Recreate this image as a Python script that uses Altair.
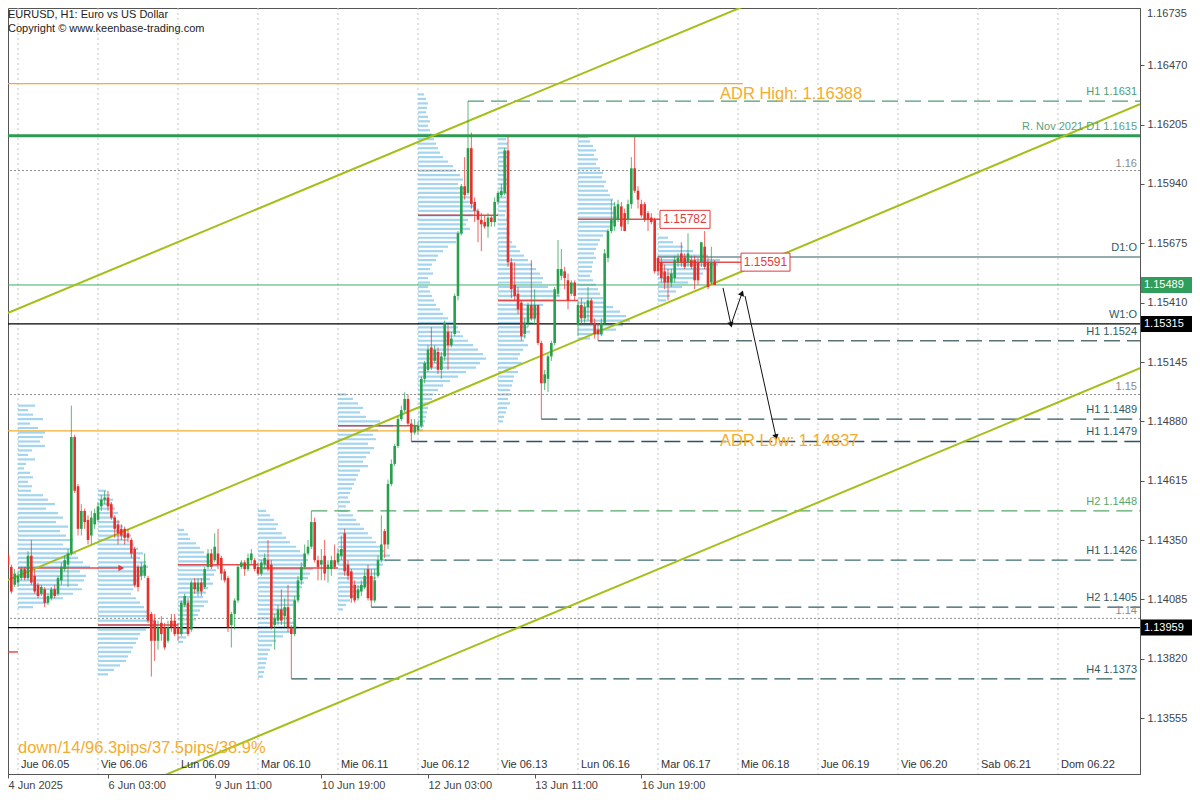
import math
import altair as alt
import pandas as pd

# ---------------- plot geometry ----------------
W, H = 1132, 766
X_DOMAIN = [-3.0, 336.6]          # H1 bar index, 0 = Thu 5 Jun 2025 00:00 (weekend skipped)
Y_DOMAIN = [1.13305, 1.16726]

# ---------------- candles (EURUSD H1) ----------------
FIRST_BAR = -4
OPEN = [1.1433, 1.1428, 1.1423, 1.1415,
        1.1416, 1.1418, 1.1422, 1.1418, 1.1428, 1.1419, 1.1415, 1.1411, 1.1413, 1.1407,
        1.1409, 1.1413, 1.1411, 1.1417, 1.1422, 1.1424, 1.1429, 1.1481, 1.1459, 1.1440,
        1.1448, 1.1444, 1.1437, 1.1442, 1.1444, 1.1450, 1.1453, 1.1454, 1.1451, 1.1445,
        1.1442, 1.1440, 1.1440, 1.1438, 1.1435, 1.1431, 1.1423, 1.1419, 1.1419, 1.1418,
        1.1402, 1.1399, 1.1390, 1.1398, 1.1396, 1.1390, 1.1399, 1.1399, 1.1396, 1.1393,
        1.1406, 1.1407, 1.1395, 1.1416, 1.1412, 1.1416, 1.1414, 1.1423, 1.1429, 1.1426,
        1.1429, 1.1427, 1.1421, 1.1418, 1.1397, 1.1402, 1.1408, 1.1423, 1.1425, 1.1422,
        1.1426, 1.1426, 1.1423, 1.1420, 1.1424, 1.1426, 1.1424, 1.1397, 1.1399, 1.1404,
        1.1401, 1.1405, 1.1396, 1.1393, 1.1408, 1.1417, 1.1423, 1.1429, 1.1432, 1.1443,
        1.1426, 1.1424, 1.1428, 1.1422, 1.1422, 1.1426, 1.1425, 1.1428, 1.1438, 1.1424,
        1.1421, 1.1415, 1.1409, 1.1412, 1.1414, 1.1422, 1.1419, 1.1408, 1.1419, 1.1426,
        1.1439, 1.1433, 1.1460, 1.1469, 1.1477, 1.1489, 1.1493, 1.1498, 1.1487, 1.1483,
        1.1484, 1.1486, 1.1507, 1.1511, 1.1521, 1.1515, 1.1519, 1.1511, 1.1517, 1.1528,
        1.1522, 1.1527, 1.1544, 1.1572, 1.1593, 1.1590, 1.1610, 1.1586, 1.1582, 1.1578,
        1.1577, 1.1575, 1.1579, 1.1577, 1.1586, 1.1589, 1.1590, 1.1609, 1.1559, 1.1549,
        1.1545, 1.1541, 1.1527, 1.1532, 1.1540, 1.1534, 1.1540, 1.1523, 1.1505, 1.1507,
        1.1517, 1.1523, 1.1545, 1.1553, 1.1555, 1.1551, 1.1545, 1.1550, 1.1531, 1.1540,
        1.1534, 1.1539, 1.1542, 1.1532, 1.1529, 1.1527, 1.1532, 1.1561, 1.1573, 1.1575,
        1.1578, 1.1584, 1.1581, 1.1578, 1.1585, 1.1601, 1.1591, 1.1585, 1.1585, 1.1581,
        1.1579, 1.1578, 1.1561, 1.1559, 1.1555, 1.1553, 1.1550, 1.1552, 1.1559, 1.1563,
        1.1561, 1.1559, 1.1560, 1.1560, 1.1559, 1.1559, 1.1566, 1.1559, 1.1550, 1.1559]
HIGH = [1.1435, 1.1429, 1.1424, 1.1422,
        1.1421, 1.1423, 1.1423, 1.1430, 1.1435, 1.1422, 1.1416, 1.1415, 1.1414, 1.1411,
        1.1414, 1.1415, 1.1419, 1.1425, 1.1428, 1.1431, 1.1495, 1.1482, 1.1460, 1.1451,
        1.1449, 1.1446, 1.1448, 1.1449, 1.1452, 1.1455, 1.1457, 1.1457, 1.1452, 1.1446,
        1.1444, 1.1442, 1.1441, 1.1440, 1.1436, 1.1432, 1.1424, 1.1425, 1.1429, 1.1419,
        1.1403, 1.1402, 1.1399, 1.1401, 1.1398, 1.1399, 1.1402, 1.1402, 1.1398, 1.1408,
        1.1411, 1.1409, 1.1417, 1.1418, 1.1418, 1.1418, 1.1423, 1.1431, 1.1431, 1.1438,
        1.1440, 1.1428, 1.1422, 1.1419, 1.1403, 1.1409, 1.1424, 1.1426, 1.1426, 1.1429,
        1.1431, 1.1427, 1.1425, 1.1426, 1.1429, 1.1435, 1.1426, 1.1402, 1.1406, 1.1413,
        1.1409, 1.1415, 1.1397, 1.1410, 1.1419, 1.1425, 1.1433, 1.1435, 1.1448, 1.1445,
        1.1428, 1.1431, 1.1435, 1.1426, 1.1428, 1.1433, 1.1431, 1.1437, 1.1440, 1.1426,
        1.1422, 1.1417, 1.1415, 1.1417, 1.1422, 1.1424, 1.1422, 1.1422, 1.1428, 1.1446,
        1.1440, 1.1462, 1.1471, 1.1478, 1.1490, 1.1495, 1.1501, 1.1500, 1.1489, 1.1489,
        1.1488, 1.1508, 1.1515, 1.1522, 1.1530, 1.1522, 1.1521, 1.1519, 1.1533, 1.1531,
        1.1528, 1.1545, 1.1573, 1.1594, 1.1606, 1.1631, 1.1617, 1.1588, 1.1583, 1.1581,
        1.1580, 1.1581, 1.1580, 1.1588, 1.1591, 1.1594, 1.1610, 1.1615, 1.1561, 1.1559,
        1.1548, 1.1542, 1.1534, 1.1541, 1.1560, 1.1547, 1.1540, 1.1524, 1.1511, 1.1518,
        1.1524, 1.1548, 1.1569, 1.1565, 1.1557, 1.1554, 1.1551, 1.1551, 1.1542, 1.1543,
        1.1541, 1.1548, 1.1543, 1.1534, 1.1532, 1.1534, 1.1565, 1.1574, 1.1587, 1.1586,
        1.1587, 1.1586, 1.1583, 1.1587, 1.1606, 1.1615, 1.1593, 1.1587, 1.1586, 1.1582,
        1.1581, 1.1579, 1.1562, 1.1561, 1.1558, 1.1556, 1.1556, 1.1562, 1.1563, 1.1568,
        1.1563, 1.1572, 1.1562, 1.1562, 1.1561, 1.1568, 1.1573, 1.1561, 1.1566, 1.1560]
LOW = [1.1423, 1.1422, 1.1411, 1.1414,
       1.1414, 1.1417, 1.1417, 1.1417, 1.1415, 1.1411, 1.1409, 1.1410, 1.1405, 1.1406,
       1.1408, 1.1409, 1.1410, 1.1415, 1.1421, 1.1414, 1.1428, 1.1456, 1.1437, 1.1437,
       1.1440, 1.1433, 1.1433, 1.1440, 1.1443, 1.1448, 1.1451, 1.1448, 1.1444, 1.1436,
       1.1433, 1.1435, 1.1433, 1.1434, 1.1427, 1.1414, 1.1412, 1.1417, 1.1418, 1.1398,
       1.1374, 1.1381, 1.1386, 1.1390, 1.1386, 1.1389, 1.1394, 1.1392, 1.1390, 1.1392,
       1.1405, 1.1392, 1.1394, 1.1411, 1.1410, 1.1410, 1.1413, 1.1422, 1.1422, 1.1425,
       1.1422, 1.1417, 1.1416, 1.1394, 1.1387, 1.1395, 1.1407, 1.1422, 1.1419, 1.1421,
       1.1424, 1.1421, 1.1419, 1.1419, 1.1422, 1.1421, 1.1395, 1.1386, 1.1397, 1.1397,
       1.1396, 1.1394, 1.1373, 1.1392, 1.1407, 1.1415, 1.1422, 1.1428, 1.1431, 1.1425,
       1.1417, 1.1417, 1.1417, 1.1416, 1.1419, 1.1422, 1.1424, 1.1426, 1.1419, 1.1417,
       1.1407, 1.1407, 1.1408, 1.1410, 1.1413, 1.1408, 1.1405, 1.1407, 1.1418, 1.1425,
       1.1427, 1.1431, 1.1459, 1.1468, 1.1476, 1.1488, 1.1492, 1.1486, 1.1479, 1.1482,
       1.1482, 1.1485, 1.1505, 1.1510, 1.1511, 1.1514, 1.1509, 1.1507, 1.1515, 1.1511,
       1.1521, 1.1526, 1.1542, 1.1571, 1.1587, 1.1589, 1.1583, 1.1577, 1.1568, 1.1564,
       1.1574, 1.1570, 1.1575, 1.1575, 1.1585, 1.1588, 1.1589, 1.1557, 1.1543, 1.1542,
       1.1536, 1.1524, 1.1525, 1.1530, 1.1533, 1.1531, 1.1522, 1.1489, 1.1502, 1.1501,
       1.1515, 1.1522, 1.1544, 1.1551, 1.1547, 1.1538, 1.1544, 1.1542, 1.1526, 1.1531,
       1.1532, 1.1533, 1.1531, 1.1525, 1.1524, 1.1526, 1.1531, 1.1559, 1.1572, 1.1573,
       1.1577, 1.1573, 1.1573, 1.1576, 1.1583, 1.1590, 1.1583, 1.1579, 1.1577, 1.1573,
       1.1576, 1.1554, 1.1553, 1.1550, 1.1547, 1.1542, 1.1548, 1.1550, 1.1557, 1.1557,
       1.1556, 1.1557, 1.1556, 1.1547, 1.1549, 1.1557, 1.1556, 1.1547, 1.1549, 1.1549]
CLOSE = [1.1424, 1.1424, 1.1412, 1.1420,
         1.1419, 1.1422, 1.1418, 1.1428, 1.1416, 1.1412, 1.1410, 1.1414, 1.1407, 1.1410,
         1.1413, 1.1410, 1.1418, 1.1423, 1.1426, 1.1429, 1.1481, 1.1457, 1.1440, 1.1448,
         1.1443, 1.1435, 1.1445, 1.1447, 1.1450, 1.1453, 1.1454, 1.1450, 1.1445, 1.1440,
         1.1438, 1.1437, 1.1436, 1.1436, 1.1429, 1.1415, 1.1414, 1.1423, 1.1424, 1.1399,
         1.1390, 1.1390, 1.1396, 1.1393, 1.1387, 1.1396, 1.1396, 1.1393, 1.1393, 1.1407,
         1.1410, 1.1393, 1.1416, 1.1413, 1.1416, 1.1412, 1.1422, 1.1429, 1.1423, 1.1432,
         1.1424, 1.1420, 1.1417, 1.1396, 1.1402, 1.1408, 1.1423, 1.1425, 1.1422, 1.1427,
         1.1429, 1.1422, 1.1420, 1.1425, 1.1427, 1.1422, 1.1396, 1.1400, 1.1404, 1.1399,
         1.1405, 1.1396, 1.1393, 1.1408, 1.1417, 1.1423, 1.1429, 1.1432, 1.1443, 1.1426,
         1.1423, 1.1426, 1.1420, 1.1424, 1.1426, 1.1423, 1.1429, 1.1431, 1.1421, 1.1419,
         1.1409, 1.1408, 1.1413, 1.1415, 1.1419, 1.1409, 1.1408, 1.1417, 1.1426, 1.1433,
         1.1433, 1.1460, 1.1469, 1.1477, 1.1489, 1.1493, 1.1498, 1.1487, 1.1483, 1.1486,
         1.1486, 1.1507, 1.1514, 1.1520, 1.1512, 1.1520, 1.1511, 1.1517, 1.1532, 1.1522,
         1.1525, 1.1544, 1.1572, 1.1593, 1.1589, 1.1610, 1.1585, 1.1582, 1.1578, 1.1576,
         1.1575, 1.1579, 1.1577, 1.1586, 1.1590, 1.1591, 1.1609, 1.1559, 1.1547, 1.1544,
         1.1538, 1.1526, 1.1532, 1.1540, 1.1534, 1.1540, 1.1523, 1.1505, 1.1509, 1.1517,
         1.1523, 1.1547, 1.1556, 1.1556, 1.1552, 1.1542, 1.1550, 1.1544, 1.1540, 1.1534,
         1.1539, 1.1542, 1.1532, 1.1527, 1.1527, 1.1532, 1.1563, 1.1573, 1.1578, 1.1584,
         1.1585, 1.1575, 1.1573, 1.1585, 1.1601, 1.1591, 1.1587, 1.1580, 1.1578, 1.1578,
         1.1577, 1.1555, 1.1555, 1.1552, 1.1550, 1.1550, 1.1554, 1.1560, 1.1561, 1.1559,
         1.1557, 1.1563, 1.1557, 1.1551, 1.1551, 1.1568, 1.1557, 1.1548, 1.1559, 1.15489]

# ---------------- session axis ----------------
DAY_LABELS = ["Jue 06.05", "Vie 06.06", "Lun 06.09", "Mar 06.10", "Mie 06.11", "Jue 06.12",
              "Vie 06.13", "Lun 06.16", "Mar 06.17", "Mie 06.18", "Jue 06.19", "Vie 06.20",
              "Sab 06.21", "Dom 06.22"]
BARS_PER_DAY = 24
X_TICK_BARS = [-3, 27, 59, 91, 123, 155, 187]
X_TICK_LABELS = ["4 Jun 2025", "6 Jun 03:00", "9 Jun 11:00", "10 Jun 19:00",
                 "12 Jun 03:00", "13 Jun 11:00", "16 Jun 19:00"]
Y_TICKS = [1.16470, 1.16205, 1.15940, 1.15675, 1.15410, 1.15145,
           1.14880, 1.14615, 1.14350, 1.14085, 1.13820, 1.13555]
Y_TOP_TICK = 1.16735

# ---------------- daily volume profiles ----------------
PROFILE_SESSION = [0, 1, 2, 3, 4, 5, 6, 7, 8]
PROFILE_TOP = [1.1495, 1.1457, 1.14395, 1.1448, 1.1500, 1.1634, 1.1614, 1.1615, 1.1570]
PROFILE_STEP = 0.0002
PROFILES = [
    [17, 10, 15, 25, 12, 20, 27, 25, 22, 27, 14, 10, 17, 8, 6, 12, 15, 10, 14, 13, 25, 30, 37,
     28, 40, 45, 38, 50, 42, 48, 55, 45, 52, 58, 60, 65, 72, 62, 68, 66, 60, 64, 55, 45, 30, 15],
    [8, 12, 15, 14, 17, 20, 18, 22, 25, 28, 33, 30, 36, 40, 45, 42, 48, 50, 46, 44, 40, 38, 35,
     33, 38, 42, 46, 50, 54, 58, 60, 48, 42, 40, 38, 35, 33, 30, 28, 22, 16, 10],
    [6, 10, 12, 18, 22, 26, 30, 35, 40, 38, 36, 32, 35, 30, 28, 25, 30, 26, 22, 20, 18, 15, 12,
     10, 8, 5],
    [8, 12, 16, 20, 18, 24, 28, 32, 38, 42, 46, 50, 48, 55, 52, 50, 46, 44, 40, 42, 38, 35, 30,
     28, 32, 36, 40, 34, 25, 18, 14, 12, 10, 9, 8, 7, 6, 5],
    [8, 15, 20, 25, 22, 28, 42, 55, 40, 35, 38, 30, 36, 32, 28, 25, 30, 22, 20, 18, 16, 14, 12,
     10, 12, 8, 10, 15, 18, 22, 26, 30, 34, 38, 42, 46, 52, 48, 45, 40, 42, 38, 32, 28, 22, 16,
     12, 8, 5],
    [6, 8, 10, 9, 8, 10, 12, 10, 12, 14, 16, 18, 20, 22, 25, 30, 35, 38, 42, 45, 40, 46, 48, 52,
     55, 58, 60, 55, 50, 48, 52, 45, 40, 38, 30, 25, 20, 18, 14, 12, 15, 10, 12, 10, 12, 14, 16,
     18, 22, 25, 30, 35, 40, 42, 45, 50, 55, 60, 65, 68, 62, 58, 48, 40, 32, 25, 20, 15, 14, 12,
     10, 9, 8, 7, 6, 5],
    [8, 10, 9, 12, 10, 8, 9, 7, 8, 10, 9, 8, 10, 8, 9, 10, 8, 7, 9, 8, 10, 12, 10, 14, 18, 22,
     26, 30, 34, 38, 42, 45, 44, 50, 55, 62, 58, 45, 40, 42, 38, 35, 30, 32, 28, 26, 30, 25, 22,
     20, 24, 18, 20, 16, 15, 14, 12, 13, 10, 12, 9, 8, 6, 5],
    [10, 12, 15, 18, 16, 20, 18, 22, 25, 24, 28, 26, 30, 32, 35, 37, 34, 38, 40, 36, 33, 30, 25,
     22, 20, 18, 16, 18, 15, 14, 14, 12, 15, 18, 20, 22, 25, 28, 35, 42, 48, 52, 45, 38, 25, 12],
    [10, 15, 25, 35, 50, 62, 60, 52, 45, 38, 30, 24, 18, 12, 8],
]
PROFILE_BARS_PER_UNIT = 0.3

# point of control of each session: (start bar, end bar, price)
POC_START = [-3, 0, 24, 48, 72, 96, 120, 144, 168, 192]
POC_END = [0, 31, 48, 72, 96, 120, 144, 168, 192.6, 216.9]
POC_PRICE = [1.1385, 1.14225, 1.1397, 1.1424, 1.14225, 1.1486, 1.1580, 1.1542, 1.15782, 1.15591]
POC_TAGS = ["1.15782", "1.15591"]
POC_TAG_START = [192.6, 216.9]
POC_TAG_END = [207.6, 231.6]
POC_TAG_PRICE = [1.15782, 1.15591]

# ---------------- levels ----------------
ROUND_LEVELS = [1.16, 1.15, 1.14]
ADR_HIGH, ADR_LOW = 1.16388, 1.14837
ADR_END_BAR = 217.5
RESISTANCE = 1.16155
D1_OPEN, D1_START = 1.15614, 192
W1_OPEN = 1.15315
BID = 1.15489
PREV_CLOSE = 1.13959

SWING_NAMES = ["H1 1.1631", "H1 1.1524", "H1 1.1489", "H1 1.1479", "H2 1.1448",
               "H1 1.1426", "H2 1.1405", "H4 1.1373"]
SWING_PRICE = [1.1631, 1.1524, 1.1489, 1.1479, 1.1448, 1.1426, 1.1405, 1.1373]
SWING_BAR = [135, 174, 157, 118, 88, 110, 106, 82]
SWING_COLOR = ["#4e9c74", "#5a7272", "#2f5b5f", "#2c5563", "#55a86a", "#3c6d6d",
               "#2f5b5f", "#2f5b5f"]

RIGHT_TEXT = ["H1 1.1631", "R. Nov 2021 D1 1.1615", "D1:O", "W1:O", "H1 1.1524",
              "H1 1.1489", "H1 1.1479", "H2 1.1448", "H1 1.1426", "H2 1.1405", "H4 1.1373"]
RIGHT_PRICE = [1.1631, 1.16155, 1.15614, 1.15315, 1.1524, 1.1489, 1.1479,
               1.1448, 1.1426, 1.1405, 1.1373]
RIGHT_COLOR = ["#4e9c74", "#5ca07e", "#2f5b5f", "#2f5b5f", "#2f5b5f",
               "#2f5b5f", "#2f5b5f", "#55a86a", "#2f5b5f", "#2f5b5f", "#2f5b5f"]
ROUND_TEXT = ["1.16", "1.15", "1.14"]

# ascending channel (two anchor points per line)
CHANNEL_NAME = ["upper", "upper", "middle", "middle", "lower", "lower"]
CHANNEL_BAR = [-4.5, 222.6, -4.5, 336.6, 42.6, 336.6]
CHANNEL_PRICE = [1.15355, 1.16764, 1.14162, 1.16297, 1.13291, 1.15118]

# projected path arrows
ARROW_FROM_BAR = [211.5, 213.9, 218.1]
ARROW_FROM_PRICE = [1.15476, 1.15311, 1.15440]
ARROW_TO_BAR = [213.9, 217.2, 227.4]
ARROW_TO_PRICE = [1.15311, 1.15453, 1.14810]

TAG_PRICE = [BID, W1_OPEN, PREV_CLOSE]
TAG_FILL = ["#2f9e5a", "#000000", "#000000"]

# ---------------- styling ----------------
FONT = "Liberation Sans"
UP, DOWN = "#25a04c", "#e5302c"
PROFILE_BLUE = "#a4d5ee"
CHANNEL = "#a3bf18"
ADR_COLOR = "#f2ad2e"
POC_RED = "#e23b3b"
LABEL_GREY = "#444444"

XS = alt.Scale(domain=X_DOMAIN, nice=False, zero=False)
YS = alt.Scale(domain=Y_DOMAIN, nice=False, zero=False)
label_expr = " : ".join(f"datum.value == {b} ? '{t}'" for b, t in zip(X_TICK_BARS, X_TICK_LABELS)) + " : ''"
AXX = alt.Axis(values=X_TICK_BARS, labelExpr=label_expr, title=None, grid=False, orient="bottom",
               labelAlign="left", labelFont=FONT, labelFontSize=11, labelColor=LABEL_GREY,
               tickSize=4, tickColor="#555", domainColor="#555", labelPadding=1,
               labelOverlap=False, labelFlush=False)
AXY = alt.Axis(values=Y_TICKS, format=".5f", title=None, grid=False, orient="right",
               labelFont=FONT, labelFontSize=11, labelColor=LABEL_GREY, tickSize=4,
               tickColor="#555", domainColor="#555", labelPadding=3,
               labelOverlap=False, labelFlush=False)


def X(f):
    return alt.X(f"{f}:Q", scale=XS, axis=AXX)


def Y(f):
    return alt.Y(f"{f}:Q", scale=YS, axis=AXY)


PXB = W / (X_DOMAIN[1] - X_DOMAIN[0])
PXP = H / (Y_DOMAIN[1] - Y_DOMAIN[0])

# ---------------- frames ----------------
n = len(OPEN)
candles = pd.DataFrame({"bar": [FIRST_BAR + k for k in range(n)], "open": OPEN, "high": HIGH,
                        "low": LOW, "close": CLOSE})
candles["col"] = [UP if c >= o else DOWN for o, c in zip(OPEN, CLOSE)]

days = pd.DataFrame({"bar": [k * BARS_PER_DAY for k in range(len(DAY_LABELS))], "label": DAY_LABELS})

prof_rows = []
for s, top, vols in zip(PROFILE_SESSION, PROFILE_TOP, PROFILES):
    start = s * BARS_PER_DAY
    for k, v in enumerate(vols):
        prof_rows.append({"x0": start, "x1": start + v * PROFILE_BARS_PER_UNIT,
                          "price": top - k * PROFILE_STEP})
profiles = pd.DataFrame(prof_rows)

poc = pd.DataFrame({"x0": POC_START, "x1": POC_END, "price": POC_PRICE})
poc_tags = pd.DataFrame({"x0": POC_TAG_START, "x1": POC_TAG_END, "price": POC_TAG_PRICE,
                         "label": POC_TAGS})
poc_tags["xm"] = (poc_tags.x0 + poc_tags.x1) / 2

rounds = pd.DataFrame({"price": ROUND_LEVELS, "label": ROUND_TEXT})
adr = pd.DataFrame({"x0": [X_DOMAIN[0]] * 2, "x1": [ADR_END_BAR] * 2, "price": [ADR_HIGH, ADR_LOW],
                    "label": [f"ADR High: {ADR_HIGH:.5f}", f"ADR Low: {ADR_LOW:.5f}"]})
full_lines = pd.DataFrame({"price": [BID, W1_OPEN, PREV_CLOSE],
                           "col": ["#3cae66", "#000000", "#000000"], "w": [1, 1.3, 1.3]})
d1 = pd.DataFrame({"x0": [D1_START], "x1": [X_DOMAIN[1]], "price": [D1_OPEN]})
swings = pd.DataFrame({"x0": SWING_BAR, "x1": [X_DOMAIN[1]] * len(SWING_BAR),
                       "price": SWING_PRICE, "col": SWING_COLOR})
right_lbl = pd.DataFrame({"price": RIGHT_PRICE, "label": RIGHT_TEXT, "col": RIGHT_COLOR})
channel = pd.DataFrame({"line": CHANNEL_NAME, "bar": CHANNEL_BAR, "price": CHANNEL_PRICE})
arrows = pd.DataFrame({"x0": ARROW_FROM_BAR, "p0": ARROW_FROM_PRICE,
                       "x1": ARROW_TO_BAR, "p1": ARROW_TO_PRICE})
arrows["ang"] = [math.degrees(math.atan2((b - a) * PXB, (q - p) * PXP)) % 360
                 for a, p, b, q in zip(ARROW_FROM_BAR, ARROW_FROM_PRICE, ARROW_TO_BAR, ARROW_TO_PRICE)]
tags = pd.DataFrame({"price": TAG_PRICE, "fill": TAG_FILL,
                     "label": [f"{p:.5f}" for p in TAG_PRICE]})
poc_arrow = pd.DataFrame({"bar": [POC_END[1]], "price": [POC_PRICE[1]]})
hdr = pd.DataFrame({"t": ["EURUSD, H1:  Euro vs US Dollar",
                          "Copyright \u00a9 www.keenbase-trading.com"]})

# ---------------- layers ----------------
layers = []
layers.append(alt.Chart(days).mark_rule(color="#c4c4c4", strokeDash=[2, 3], strokeWidth=1)
              .encode(x=X("bar")))
layers.append(alt.Chart(profiles).mark_rule(color=PROFILE_BLUE, strokeWidth=2.2, clip=True)
              .encode(x=X("x0"), x2="x1", y=Y("price")))
layers.append(alt.Chart(rounds).mark_rule(color="#8c8c8c", strokeDash=[2, 2], strokeWidth=1)
              .encode(y=Y("price")))
layers.append(alt.Chart(adr).mark_rule(color=ADR_COLOR, strokeWidth=1.2, clip=True)
              .encode(x=X("x0"), x2="x1", y=Y("price")))
layers.append(alt.Chart(pd.DataFrame({"price": [RESISTANCE]}))
              .mark_rule(color="#2e9a52", strokeWidth=3).encode(y=Y("price")))
layers.append(alt.Chart(full_lines).mark_rule()
              .encode(y=Y("price"), color=alt.Color("col:N", scale=None),
                      strokeWidth=alt.StrokeWidth("w:Q", scale=None)))
layers.append(alt.Chart(d1).mark_rule(color="#2f5b5f", strokeWidth=1.2)
              .encode(x=X("x0"), x2="x1", y=Y("price")))
layers.append(alt.Chart(swings).mark_rule(strokeDash=[16, 7], strokeWidth=1.3)
              .encode(x=X("x0"), x2="x1", y=Y("price"), color=alt.Color("col:N", scale=None)))
layers.append(alt.Chart(poc).mark_rule(color=POC_RED, strokeWidth=1.5, opacity=0.9, clip=True)
              .encode(x=X("x0"), x2="x1", y=Y("price")))
layers.append(alt.Chart(poc_arrow).mark_point(shape="triangle-right", filled=True, size=45,
                                               color=POC_RED, opacity=1)
              .encode(x=X("bar"), y=Y("price")))
layers.append(alt.Chart(channel).mark_line(color=CHANNEL, strokeWidth=2, clip=True)
              .encode(x=X("bar"), y=Y("price"), detail="line:N"))
# candles
layers.append(alt.Chart(candles).mark_rule(strokeWidth=1, opacity=0.75, clip=True)
              .encode(x=X("bar"), y=Y("low"), y2="high", color=alt.Color("col:N", scale=None)))
layers.append(alt.Chart(candles).mark_rule(strokeWidth=2.6, clip=True)
              .encode(x=X("bar"), y=Y("open"), y2="close", color=alt.Color("col:N", scale=None)))
# POC value tags
layers.append(alt.Chart(poc_tags).mark_rect(fill="white", stroke=POC_RED, strokeWidth=1,
                                            yOffset=-9, y2Offset=9)
              .encode(x=X("x0"), x2="x1", y=Y("price"), y2="price"))
layers.append(alt.Chart(poc_tags).mark_text(font=FONT, fontSize=12, color=POC_RED)
              .encode(x=X("xm"), y=Y("price"), text="label:N"))
# projected path arrows
layers.append(alt.Chart(arrows).mark_rule(color="#111", strokeWidth=1)
              .encode(x=X("x0"), x2="x1", y=Y("p0"), y2="p1"))
layers.append(alt.Chart(arrows).mark_point(shape="triangle-up", filled=True, size=40,
                                           color="#111", opacity=1)
              .encode(x=X("x1"), y=Y("p1"), angle=alt.Angle("ang:Q", scale=None)))
# labels at right edge
layers.append(alt.Chart(right_lbl).mark_text(font=FONT, fontSize=11, align="right",
                                             baseline="alphabetic", dy=-6)
              .encode(x=alt.value(W - 3), y=Y("price"), text="label:N",
                      color=alt.Color("col:N", scale=None)))
layers.append(alt.Chart(rounds).mark_text(font=FONT, fontSize=11, align="right",
                                          baseline="alphabetic", dy=-4, color="#8a8a8a")
              .encode(x=alt.value(W - 3), y=Y("price"), text="label:N"))
layers.append(alt.Chart(adr).mark_text(font=FONT, fontSize=16.5, align="left", baseline="top",
                                       dy=2, color=ADR_COLOR)
              .encode(x=alt.value(712), y=Y("price"), text="label:N"))
layers.append(alt.Chart(days).mark_text(font=FONT, fontSize=11, align="left",
                                        baseline="middle", dx=3, color="#333")
              .encode(x=X("bar"), y=alt.value(H - 9), text="label:N"))
# top price label of the scale (sits at the frame edge)
layers.append(alt.Chart(pd.DataFrame({"t": [f"{Y_TOP_TICK:.5f}"]}))
              .mark_text(font=FONT, fontSize=11, align="left", baseline="top", color=LABEL_GREY)
              .encode(x=alt.value(W + 7), y=alt.value(0), text="t:N"))
# price tags on the axis
layers.append(alt.Chart(tags).mark_rect(yOffset=-8, y2Offset=8)
              .encode(x=alt.value(W + 1), x2=alt.value(W + 52), y=Y("price"), y2="price",
                      fill=alt.Fill("fill:N", scale=None)))
layers.append(alt.Chart(tags).mark_text(font=FONT, fontSize=11, color="white", align="left")
              .encode(x=alt.value(W + 4), y=Y("price"), text="label:N"))
# header / footer text
layers.append(alt.Chart(hdr.iloc[[0]]).mark_text(font=FONT, fontSize=11, align="left",
                                                 baseline="top", color="#222")
              .encode(x=alt.value(0), y=alt.value(1), text="t:N"))
layers.append(alt.Chart(hdr.iloc[[1]]).mark_text(font=FONT, fontSize=11, align="left",
                                                 baseline="top", color="#222")
              .encode(x=alt.value(0), y=alt.value(15), text="t:N"))
layers.append(alt.Chart(pd.DataFrame({"t": ["down/14/96.3pips/37.5pips/38.9%"]}))
              .mark_text(font=FONT, fontSize=16.5, align="left", baseline="middle", color=ADR_COLOR)
              .encode(x=alt.value(10), y=alt.value(740), text="t:N"))

chart = (alt.layer(*layers)
         .properties(width=W, height=H, background="white",
                     autosize=alt.AutoSizeParams(type="none"),
                     padding={"left": 0, "top": 0, "right": 52, "bottom": 18})
         .configure_view(stroke="#555", strokeWidth=1))

chart.save("out.html", embed_options={"renderer": "svg", "actions": False})
